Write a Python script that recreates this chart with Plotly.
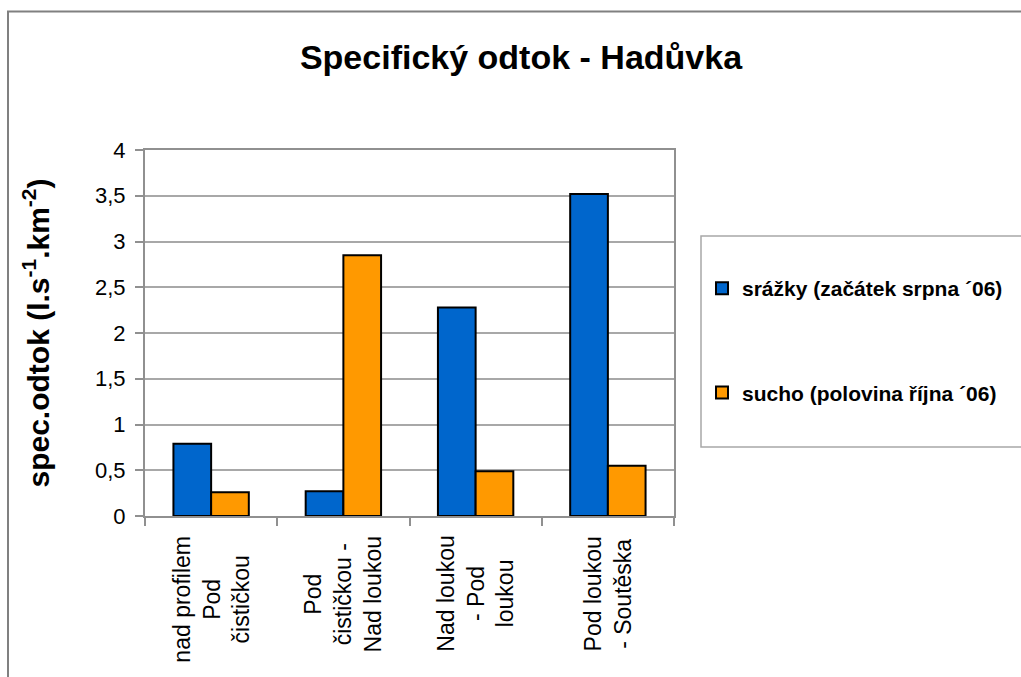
import plotly.graph_objects as go

# Úseky toku a hodnoty specifického odtoku
kategorie = ["nad profilem<br>Pod<br>čističkou",
             "Pod<br>čističkou -<br>Nad loukou",
             "Nad loukou<br>- Pod<br>loukou",
             "Pod loukou<br>- Soutěska"]
srazky = [0.79, 0.27, 2.28, 3.52]
sucho = [0.26, 2.85, 0.49, 0.55]
nazvy_rad = ["srážky (začátek srpna ´06)", "sucho (polovina října ´06)"]
barvy = ["#0066CC", "#FF9900"]
y_ticks = [0, 0.5, 1, 1.5, 2, 2.5, 3, 3.5, 4]

W, H = 1021, 677
L, R, T, B = 145, 674, 150, 516
pw, ph = R - L, B - T


def px_x(x):
    return (x - L) / pw


def px_y(y):
    return (B - y) / ph


FONT = "Liberation Sans, Arial, sans-serif"

fig = go.Figure()
for i, (nazev, hodnoty, barva) in enumerate(zip(nazvy_rad, [srazky, sucho], barvy)):
    fig.add_trace(go.Bar(
        x=kategorie, y=hodnoty, name=nazev,
        marker=dict(color=barva, line=dict(color="#000000", width=2)),
        legendgroup=f"g{i}",
    ))

# popisky kategorií pod osou x, otočené o 90°
for i, k in enumerate(kategorie):
    fig.add_annotation(
        x=i, y=px_y(534), xref="x", yref="paper",
        text=k, textangle=-90, showarrow=False,
        xanchor="center", yanchor="top", align="center",
        font=dict(family=FONT, size=23, color="#000000"),
    )

# rámeček celého grafu a rámeček legendy
fig.add_shape(type="rect", xref="paper", yref="paper",
              x0=px_x(8), x1=px_x(1040), y0=px_y(700), y1=px_y(11.5),
              line=dict(color="#808080", width=2), fillcolor="rgba(0,0,0,0)", layer="below")
fig.add_shape(type="rect", xref="paper", yref="paper",
              x0=px_x(701), x1=px_x(1040), y0=px_y(447), y1=px_y(236),
              line=dict(color="#a8a8a8", width=1.5), fillcolor="rgba(0,0,0,0)", layer="below")

fig.update_layout(
    width=W, height=H,
    margin=dict(l=L, r=W - R, t=T, b=H - B, pad=0, autoexpand=False),
    paper_bgcolor="#ffffff", plot_bgcolor="#ffffff",
    separators=", ",
    bargap=0.43, bargroupgap=0,
    title=dict(text="Specifický odtok - Hadůvka", x=521 / W, xanchor="center",
               y=1 - 57 / H, yanchor="middle",
               font=dict(family=FONT, size=34, weight="bold", color="#000000")),
    legend=dict(x=px_x(702), y=px_y(268), xanchor="left", yanchor="top",
                traceorder="grouped", tracegroupgap=74,
                bgcolor="rgba(0,0,0,0)", borderwidth=0,
                font=dict(family=FONT, size=21, weight="bold", color="#000000")),
    font=dict(family=FONT, color="#000000"),
)
fig.update_xaxes(
    type="category", showticklabels=False,
    ticks="outside", tickson="boundaries", ticklen=8, tickcolor="#909090", tickwidth=1.5,
    showline=True, linecolor="#909090", linewidth=2, mirror=True,
    showgrid=False, zeroline=False,
)
fig.update_yaxes(
    range=[0, 4], tickvals=y_ticks, tickformat=",.1~f",
    ticks="outside", ticklen=8, tickcolor="#909090", tickwidth=1.5,
    showline=True, linecolor="#909090", linewidth=2, mirror=True,
    showgrid=True, gridcolor="#a8a8a8", gridwidth=1.5, zeroline=False,
    tickfont=dict(family=FONT, size=22, color="#000000"),
    ticklabelstandoff=5,
    title=dict(text="spec.odtok (l.s<sup>-1</sup>.km<sup>-2</sup>)", standoff=37,
               font=dict(family=FONT, size=30, weight="bold", color="#000000")),
)

fig.write_html("out.html")
